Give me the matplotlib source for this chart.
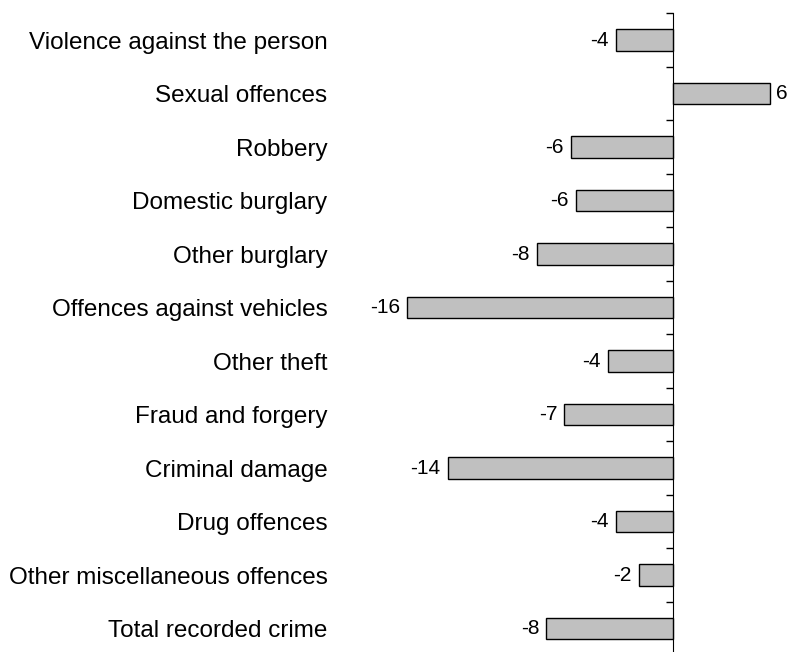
import matplotlib
matplotlib.use("Agg")
import matplotlib.pyplot as plt

categories = [
    "Violence against the person",
    "Sexual offences",
    "Robbery",
    "Domestic burglary",
    "Other burglary",
    "Offences against vehicles",
    "Other theft",
    "Fraud and forgery",
    "Criminal damage",
    "Drug offences",
    "Other miscellaneous offences",
    "Total recorded crime",
]
changes = [-3.5, 6.0, -6.3, -6.0, -8.4, -16.4, -4.0, -6.7, -13.9, -3.5, -2.1, -7.8]
value_labels = ["-4", "6", "-6", "-6", "-8", "-16", "-4", "-7", "-14", "-4", "-2", "-8"]

plt.rcParams["font.family"] = ["Liberation Sans", "DejaVu Sans"]

W, H = 788, 652
fig = plt.figure(figsize=(W / 100, H / 100), dpi=100)
# axes box in pixels: left 340, right 788, top 13, bottom ~655
left_px, right_px, top_px, bot_px = 340, 788, 13.3, 655.3
ax = fig.add_axes([left_px / W, 1 - bot_px / H, (right_px - left_px) / W, (bot_px - top_px) / H])

n = len(categories)
ypos = list(range(n))
ax.barh(ypos, changes, height=0.4, color="#c0c0c0", edgecolor="black", linewidth=1.0)

zero_px, scale = 672.7, 16.2
xmin = -(zero_px - left_px) / scale
xmax = (right_px - zero_px) / scale
ax.set_xlim(xmin, xmax)
ax.set_ylim(n - 0.5, -0.5)

for y, v, lab in zip(ypos, changes, value_labels):
    if v < 0:
        ax.annotate(lab, (v, y), xytext=(-5, 0), textcoords="offset points",
                    ha="right", va="center", fontsize=15)
    else:
        ax.annotate(lab, (v, y), xytext=(4.5, 0), textcoords="offset points",
                    ha="left", va="center", fontsize=15)

ax.set_yticks(ypos)
ax.set_yticklabels(categories, fontsize=17.5)
ax.tick_params(axis="y", length=0, pad=9)
ax.set_xticks([])
for s in ax.spines.values():
    s.set_visible(False)

# zero axis with tick marks between categories
zero_frac = (0 - xmin) / (xmax - xmin)
sec = ax.secondary_yaxis(zero_frac)
sec.set_yticks([i - 0.5 for i in range(n + 1)])
sec.set_yticklabels([])
sec.tick_params(axis="y", length=5, width=1, direction="in")
sec.spines["left"].set_linewidth(1)

fig.savefig("out.png", dpi=100)
